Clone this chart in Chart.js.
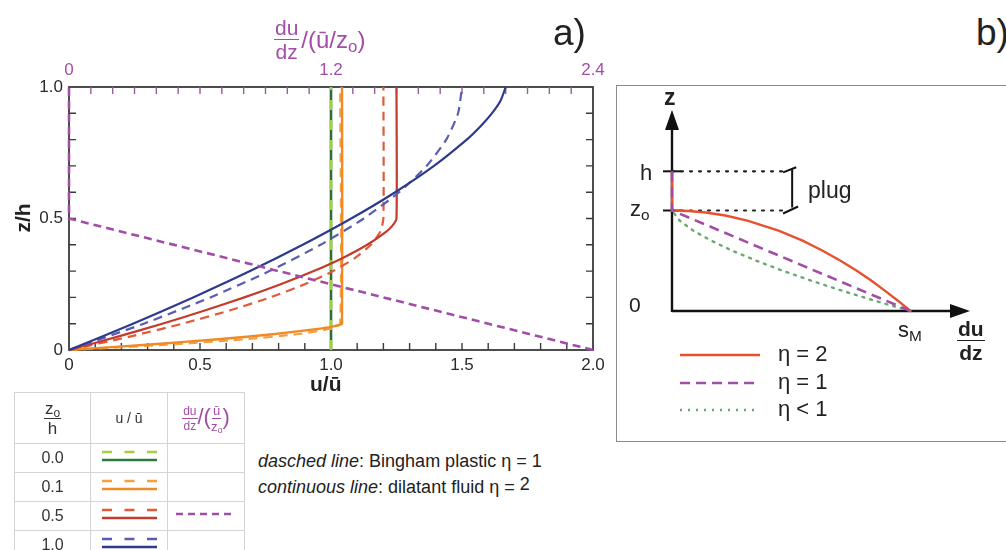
<!DOCTYPE html>
<html><head><meta charset="utf-8">
<script src="https://cdn.jsdelivr.net/npm/chart.js@4.4.1/dist/chart.umd.min.js"></script>
<style>
body{margin:0;width:1006px;height:550px;position:relative;overflow:hidden;background:#fff;font-family:"Liberation Sans",Arial,sans-serif;color:#222}
.abs{position:absolute;white-space:nowrap}
.frac{display:inline-flex;flex-direction:column;align-items:center;vertical-align:middle;line-height:1}
.frac .n{border-bottom:1.6px solid currentColor;padding:0 1px 1px}
.frac .d{padding-top:1px}
sub{font-size:70%;vertical-align:-0.25em;line-height:0}
table{border-collapse:collapse;table-layout:fixed}
td{border:1px solid #d4d4d4;padding:0;text-align:center;font-size:16px;color:#333}
</style></head><body>
<canvas id="ca" width="620" height="400" class="abs" style="left:0;top:0"></canvas>
<div class="abs" style="left:616px;top:85px;width:420px;height:355px;border:1.5px solid #8c8c8c"></div>
<canvas id="cb" width="390" height="360" class="abs" style="left:616px;top:84px"></canvas>

<!-- panel a labels -->
<div class="abs" style="left:553px;top:12px;font-size:37px;color:#222">a)</div>
<div class="abs" style="left:976px;top:12px;font-size:37px;color:#222">b)</div>
<div class="abs" style="left:274px;top:17px;color:#a24ea6;font-size:24px;display:flex;align-items:center">
  <span class="frac" style="font-size:21px"><span class="n">du</span><span class="d">dz</span></span><span style="margin-left:2px">/(ū/z<sub>o</sub>)</span>
</div>
<div class="abs" style="left:8px;top:218px;font-size:21px;font-weight:bold;transform:translate(0,-50%) rotate(-90deg);transform-origin:center;width:30px;text-align:center">z/h</div>
<div class="abs" style="left:310px;top:372px;font-size:21px;font-weight:bold">u/ū</div>

<!-- table -->
<table class="abs" style="left:14px;top:392px;width:227px">
  <tr style="height:51px">
    <td style="width:75px;font-size:17px"><span class="frac"><span class="n">z<sub>o</sub></span><span class="d">h</span></span></td>
    <td style="width:76px;font-size:14px">u / ū</td>
    <td style="width:76px;color:#a24ea6;font-size:22px"><span class="frac" style="font-size:12px"><span class="n">du</span><span class="d">dz</span></span>/(<span class="frac" style="font-size:13px"><span class="n">ū</span><span class="d">z<sub>o</sub></span></span>)</td>
  </tr>
  <tr style="height:26px"><td>0.0</td><td><svg width="76" height="24"><line x1="11" y1="8" x2="66" y2="8" stroke="#a8cc3c" stroke-width="2.5" stroke-dasharray="10 12.5"/><line x1="11" y1="16" x2="66" y2="16" stroke="#2f7a3a" stroke-width="2.5"/></svg></td><td></td></tr>
  <tr style="height:27px"><td>0.1</td><td><svg width="76" height="24"><line x1="11" y1="8" x2="66" y2="8" stroke="#f5a040" stroke-width="2.5" stroke-dasharray="10 12.5"/><line x1="11" y1="16" x2="66" y2="16" stroke="#f08a24" stroke-width="2.5"/></svg></td><td></td></tr>
  <tr style="height:27px"><td>0.5</td><td><svg width="76" height="24"><line x1="11" y1="8" x2="66" y2="8" stroke="#e05a3a" stroke-width="2.5" stroke-dasharray="10 12.5"/><line x1="11" y1="16" x2="66" y2="16" stroke="#c23b2b" stroke-width="2.5"/></svg></td><td><svg width="76" height="24"><line x1="8" y1="12" x2="66" y2="12" stroke="#a24ea6" stroke-width="2.5" stroke-dasharray="7 5"/></svg></td></tr>
  <tr style="height:27px"><td>1.0</td><td><svg width="76" height="24"><line x1="11" y1="8" x2="66" y2="8" stroke="#5a5db0" stroke-width="2.5" stroke-dasharray="10 12.5"/><line x1="11" y1="16" x2="66" y2="16" stroke="#2e3a8c" stroke-width="2.5"/></svg></td><td></td></tr>
</table>
<div class="abs" style="left:258px;top:451px;font-size:18px"><i>dasched line</i>: Bingham plastic η = 1</div>
<div class="abs" style="left:258px;top:477px;font-size:18px"><i>continuous line</i>: dilatant fluid η = <span style="position:relative;top:-3px">2</span></div>

<!-- panel b labels -->
<div class="abs" style="left:664px;top:84px;font-size:23px;font-weight:bold">z</div>
<div class="abs" style="left:640px;top:160px;font-size:22px">h</div>
<div class="abs" style="left:630px;top:196px;font-size:22px">z<sub>o</sub></div>
<div class="abs" style="left:629px;top:293px;font-size:21px">0</div>
<div class="abs" style="left:898px;top:317px;font-size:22px">s<sub>M</sub></div>
<div class="abs" style="left:957px;top:318px;font-size:21px;font-weight:bold"><span class="frac"><span class="n">du</span><span class="d">dz</span></span></div>
<div class="abs" style="left:808px;top:177px;font-size:23px">plug</div>
<svg class="abs" style="left:676px;top:340px" width="90" height="80">
  <line x1="4" y1="15" x2="84" y2="15" stroke="#e8502e" stroke-width="2.5"/>
  <line x1="4" y1="43" x2="84" y2="43" stroke="#a24ea6" stroke-width="2.5" stroke-dasharray="10 6"/>
  <line x1="4" y1="70" x2="84" y2="70" stroke="#6aaa70" stroke-width="2.5" stroke-dasharray="2 6"/>
</svg>
<div class="abs" style="left:778px;top:341px;font-size:22px">η = 2</div>
<div class="abs" style="left:778px;top:369px;font-size:22px">η = 1</div>
<div class="abs" style="left:778px;top:396px;font-size:22px">η &lt; 1</div>

<script>
// ---------- panel a data ----------
const zoLevels = ['0.0', '0.1', '0.5', '1.0'];
const xTickLabelsBottom = [0, 0.5, 1.0, 1.5, 2.0];
const xTickLabelsTop = [0, 1.2, 2.4];
const yTickLabels = [0, 0.5, 1.0];

const zGreen = [0, 1];
const uGreenSolid = [1, 1];
const uGreenDashed = [1, 1];

const zOrangeSolid = [0, 0.02, 0.04, 0.06, 0.08, 0.09, 0.095, 0.1, 1];
const uOrangeSolid = [0, 0.296, 0.558, 0.778, 0.949, 1.009, 1.030, 1.042, 1.042];
const zOrangeDashed = [0, 0.02, 0.04, 0.06, 0.08, 0.1, 1];
const uOrangeDashed = [0, 0.372, 0.662, 0.869, 0.993, 1.035, 1.035];

const zRedSolid = [0, 0.05, 0.1, 0.15, 0.2, 0.25, 0.3, 0.35, 0.4, 0.45, 0.475, 0.5, 1];
const uRedSolid = [0, 0.183, 0.356, 0.518, 0.669, 0.808, 0.934, 1.045, 1.138, 1.211, 1.236, 1.25, 1.25];
const zRedDashed = [0, 0.05, 0.1, 0.15, 0.2, 0.25, 0.3, 0.35, 0.4, 0.45, 0.5, 1];
const uRedDashed = [0, 0.228, 0.432, 0.612, 0.768, 0.9, 1.008, 1.092, 1.152, 1.188, 1.2, 1.2];

const zBlueSolid = [0, 0.1, 0.2, 0.3, 0.4, 0.5, 0.6, 0.7, 0.8, 0.85, 0.9, 0.95, 1];
const uBlueSolid = [0, 0.244, 0.474, 0.691, 0.892, 1.077, 1.245, 1.393, 1.518, 1.570, 1.614, 1.648, 1.667];
const zBlueDashed = [0, 0.1, 0.2, 0.3, 0.4, 0.5, 0.6, 0.7, 0.8, 0.9, 1];
const uBlueDashed = [0, 0.285, 0.54, 0.765, 0.96, 1.125, 1.26, 1.365, 1.44, 1.485, 1.5];

const zGrad = [0, 0.5, 1];
const gradValues = [2.4, 0, 0];   // du/dz /(ū/zo), z0/h = 0.5

// ---------- panel b data ----------
const zEta2 = [0, 0.1, 0.2, 0.3, 0.4, 0.5, 0.6, 0.7, 0.8, 0.9, 0.95, 0.98, 0.995, 1, 1.39];
const sEta2 = [1, 0.949, 0.894, 0.837, 0.775, 0.707, 0.632, 0.548, 0.447, 0.316, 0.224, 0.141, 0.071, 0, 0];
const zEta1 = [0, 1, 1.39];
const sEta1 = [1, 0, 0];
const zEtaLt1 = [0, 0.1, 0.2, 0.3, 0.4, 0.5, 0.6, 0.7, 0.8, 0.9, 1];
const sEtaLt1 = [1, 0.854, 0.716, 0.586, 0.465, 0.354, 0.253, 0.164, 0.089, 0.032, 0];
const plugLevels = [1, 1.39];          // zo, h
const plugGuideX = [0, 0.475];
const bracketTopX = [0.466, 0.521], bracketTopZ = [1.38, 1.43];
const bracketMidX = [0.504, 0.504], bracketMidZ = [1.41, 1.03];
const bracketBotX = [0.466, 0.529], bracketBotZ = [0.97, 1.04];

const pts = (xs, zs) => xs.map((x, i) => ({x: x, y: zs[i]}));
const fmt = v => (Math.abs(v) < 1e-9 ? '0' : v.toFixed(1));

function line(data, color, dash, opts) {
  return Object.assign({data: data, showLine: true, borderColor: color, backgroundColor: color,
    borderWidth: 2.2, borderDash: dash || [], pointRadius: 0, tension: 0.2, clip: false,
    borderCapStyle: 'butt'}, opts || {});
}
// Chart.js paints lower-index datasets on top; give later entries a lower order so they paint last
function stack(list) { return list.map((d, i) => Object.assign(d, {order: list.length - i})); }

const PURPLE = '#a24ea6';

const frameTicks = {
  id: 'frameTicks',
  beforeDatasetsDraw(chart) {
    const {ctx, chartArea: a, scales} = chart;
    ctx.save();
    ctx.lineWidth = 1.8;
    ctx.strokeStyle = '#3a3a3a';
    ctx.strokeRect(a.left, a.top, a.right - a.left, a.bottom - a.top);
    const L = 7;
    ctx.lineWidth = 1.4;
    for (let k = 1; k < 10; k++) {
      const py = scales.y.getPixelForValue(k / 10);
      ctx.beginPath();
      ctx.moveTo(a.left, py); ctx.lineTo(a.left + L, py);
      ctx.moveTo(a.right, py); ctx.lineTo(a.right - L, py);
      ctx.stroke();
    }
    for (let k = 1; k < 20; k++) {
      const px = scales.x.getPixelForValue(k / 10);
      ctx.beginPath(); ctx.moveTo(px, a.bottom); ctx.lineTo(px, a.bottom - L); ctx.stroke();
    }
    ctx.strokeStyle = '#9a5aa0';
    for (let k = 1; k < 24; k++) {
      const px = scales.x2.getPixelForValue(k / 10);
      ctx.beginPath(); ctx.moveTo(px, a.top); ctx.lineTo(px, a.top + L); ctx.stroke();
    }
    ctx.restore();
  }
};

const tickFont = {family: '"Liberation Sans", Arial, sans-serif', size: 17};

new Chart(document.getElementById('ca'), {
  type: 'scatter',
  data: {
    datasets: stack([
      line(pts(uGreenSolid, zGreen), '#2f6e36', [], {tension: 0, borderWidth: 2.6}),
      line(pts(uGreenDashed, zGreen), '#9fd23a', [10, 10], {tension: 0, borderWidth: 2.6}),
      line(pts(uOrangeDashed, zOrangeDashed), '#f5a040', [9, 6]),
      line(pts(uOrangeSolid, zOrangeSolid), '#f08a24', [], {borderWidth: 2.4}),
      line(pts(uRedDashed, zRedDashed), '#e05a3a', [9, 6]),
      line(pts(uRedSolid, zRedSolid), '#c23b2b', []),
      line(pts(uBlueDashed, zBlueDashed), '#5a5db0', [9, 6]),
      line(pts(uBlueSolid, zBlueSolid), '#2e3a8c', []),
      line(pts(gradValues, zGrad), PURPLE, [8, 5], {xAxisID: 'x2', tension: 0, borderWidth: 2.6})
    ])
  },
  options: {
    responsive: false, animation: false,
    layout: {padding: 0},
    plugins: {legend: {display: false}, tooltip: {enabled: false}},
    scales: {
      x: {type: 'linear', position: 'bottom', min: 0, max: 2,
        afterBuildTicks: s => { s.ticks = xTickLabelsBottom.map(v => ({value: v})); },
        afterFit: s => { s.height = 50; },
        grid: {display: false, drawTicks: false}, border: {display: false},
        ticks: {autoSkip: false, maxRotation: 0, padding: 5, color: '#2a2a2a', font: tickFont, callback: fmt}},
      x2: {type: 'linear', position: 'top', min: 0, max: 2.4,
        afterBuildTicks: s => { s.ticks = xTickLabelsTop.map(v => ({value: v})); },
        afterFit: s => { s.height = 87; },
        grid: {display: false, drawTicks: false}, border: {display: false},
        ticks: {autoSkip: false, maxRotation: 0, padding: 6, color: PURPLE, font: tickFont, callback: fmt}},
      y: {type: 'linear', position: 'left', min: 0, max: 1,
        afterBuildTicks: s => { s.ticks = yTickLabels.map(v => ({value: v})); },
        afterFit: s => { s.width = 69; },
        grid: {display: false, drawTicks: false}, border: {display: false},
        ticks: {autoSkip: false, padding: 6, color: '#2a2a2a', font: tickFont, callback: fmt}},
      yR: {type: 'linear', position: 'right', min: 0, max: 1, display: true,
        afterFit: s => { s.width = 27; },
        grid: {display: false, drawTicks: false}, border: {display: false},
        ticks: {display: false}}
    }
  },
  plugins: [frameTicks]
});

// ---------- panel b ----------
const axesB = {
  id: 'axesB',
  beforeDatasetsDraw(chart) {
    const {ctx, scales: {x, y}} = chart;
    const x0 = x.getPixelForValue(0), y0 = y.getPixelForValue(0);
    const xt = x.getPixelForValue(x.max), yt = y.getPixelForValue(y.max);
    ctx.save();
    ctx.strokeStyle = '#111'; ctx.fillStyle = '#111'; ctx.lineWidth = 2.4;
    ctx.beginPath();
    ctx.moveTo(x0, y0); ctx.lineTo(xt - 12, y0);
    ctx.moveTo(x0, y0 + 1); ctx.lineTo(x0, yt + 12);
    ctx.stroke();
    ctx.beginPath(); ctx.moveTo(xt, y0); ctx.lineTo(xt - 20, y0 - 7); ctx.lineTo(xt - 20, y0 + 7); ctx.closePath(); ctx.fill();
    ctx.beginPath(); ctx.moveTo(x0, yt); ctx.lineTo(x0 - 7, yt + 20); ctx.lineTo(x0 + 7, yt + 20); ctx.closePath(); ctx.fill();
    ctx.lineWidth = 2;
    for (const v of plugLevels) {
      const py = y.getPixelForValue(v);
      ctx.beginPath(); ctx.moveTo(x0 - 9, py); ctx.lineTo(x0 + 9, py); ctx.stroke();
    }
    ctx.restore();
  }
};

new Chart(document.getElementById('cb'), {
  type: 'scatter',
  data: {
    datasets: stack([
      line(pts(plugGuideX, [plugLevels[1], plugLevels[1]]), '#222', [2, 7], {tension: 0, borderWidth: 2.2, borderCapStyle: 'round'}),
      line(pts(plugGuideX, [plugLevels[0], plugLevels[0]]), '#222', [2, 7], {tension: 0, borderWidth: 2.2, borderCapStyle: 'round'}),
      line(pts(bracketTopX, bracketTopZ), '#111', [], {tension: 0, borderWidth: 2}),
      line(pts(bracketMidX, bracketMidZ), '#111', [], {tension: 0, borderWidth: 2}),
      line(pts(bracketBotX, bracketBotZ), '#111', [], {tension: 0, borderWidth: 2}),
      line(pts(sEtaLt1, zEtaLt1), '#6aaa70', [2, 6], {tension: 0, borderWidth: 2.4, borderCapStyle: 'round'}),
      line(pts(sEta2, zEta2), '#e8502e', [], {tension: 0, borderWidth: 2.4}),
      line(pts(sEta1, zEta1), PURPLE, [10, 6], {tension: 0, borderWidth: 2.6})
    ])
  },
  options: {
    responsive: false, animation: false,
    layout: {padding: {left: 56, right: 36, top: 26, bottom: 133}},
    plugins: {legend: {display: false}, tooltip: {enabled: false}},
    scales: {
      x: {type: 'linear', min: 0, max: 1.25, display: false},
      y: {type: 'linear', min: 0, max: 2.0, display: false}
    }
  },
  plugins: [axesB]
});
</script>
</body></html>
